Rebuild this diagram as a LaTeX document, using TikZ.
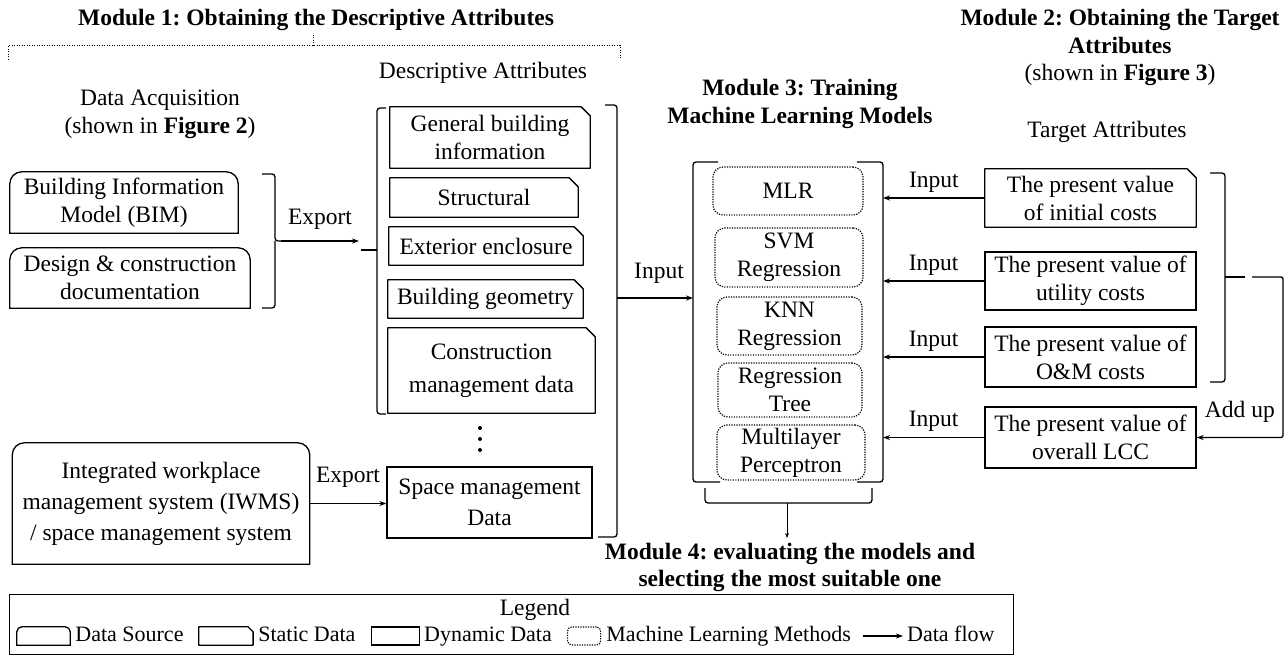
\documentclass[tikz,border=0pt]{standalone}
\usepackage{fontspec}
\setmainfont{Liberation Serif}
\usetikzlibrary{arrows.meta}
\frenchspacing
\newcommand\statshape[2][9pt]{\draw[line width=1.3pt, line join=round] (#2.south west) -- (#2.north west) -- ([xshift=-#1]#2.north east) -- ([yshift=-#1]#2.north east) -- (#2.south east) -- cycle;}
\newcommand\srcshape[2][12pt]{\draw[line width=1.3pt] (#2.south west) -- ([yshift=-#1]#2.north west) arc[start angle=180,end angle=90,radius=#1] -- ([xshift=-#1]#2.north east) arc[start angle=90,end angle=0,radius=#1] -- (#2.south east) -- cycle;}
\begin{document}
\begin{tikzpicture}[x=1pt,y=-1pt,
  every node/.style={font=\fontsize{23.5}{28}\selectfont, inner sep=0pt, align=center},
  sz/.style 2 args={minimum width=#1pt, minimum height=#2pt},
  title/.style={font=\fontsize{23.5}{27.5}\selectfont\bfseries},
  legtext/.style={font=\fontsize{22}{26}\selectfont, anchor=west, text height=15.5pt, text depth=4.8pt},
  dyn/.style={draw, line width=1.3pt},
  ml/.style={draw, line width=1.2pt, dash pattern=on 1.2pt off 1.3pt, rounded corners=10pt},
  flow/.style={line width=1.3pt, -{Stealth[length=7pt,width=5pt]}},
  brk/.style={line width=1.3pt, rounded corners=3pt},
  dotbrace/.style={line width=1pt, dash pattern=on 1pt off 1.5pt},
]
\fill[white] (0,0) rectangle (1285,655);
\useasboundingbox (0,0) rectangle (1285,655);

% titles
\node[title] (m1) at (316,20) {Module 1: Obtaining the Descriptive Attributes};
\node[title] (m2) at (1120,47.5) {Module 2: Obtaining the Target\\Attributes\\\mdseries(shown in \textbf{Figure 3})};
\node[title] (m3) at (800,104) {Module 3: Training\\Machine Learning Models};
\node[title] (m4) at (790,567.5) {Module 4: evaluating the models and\\selecting the most suitable one};
\node (da) at (160,114) {Data Acquisition\\(shown in \textbf{Figure 2})};
\node (dat) at (483,73) {Descriptive Attributes};
\node (ta) at (1107,132) {Target Attributes};

% module 1 dotted brace
\coordinate (mb) at (313,46);
\draw[dotbrace] (8,60) -- (8,46) -- (620,46) -- (620,60);
\draw[dotbrace] (mb) -- (313,35);

% data sources
\node[sz={228}{61}] (bim) at (124,202.5) {Building Information\\Model (BIM)}; \srcshape{bim}
\node[sz={240}{60}] (dcd) at (130,278) {Design \& construction\\documentation}; \srcshape{dcd}
\node[sz={297}{121}, font=\fontsize{23.5}{31}\selectfont] (iwms) at (161,503.5) {Integrated workplace\\management system (IWMS)\\/ space management system}; \srcshape{iwms}

% brace after data sources
\coordinate (b1t) at (281,241);
\draw[brk] (262,174) -- (275,174) -- (275,241) -- (b1t);
\draw[brk] (275,241) -- (275,308) -- (262,308);
\coordinate (dl) at (359,241);
\draw[flow] (b1t) -- node[above=11pt]{Export} (dl);

% descriptive attributes
\draw[brk] (386,108) -- (377,108) -- (377,414) -- (386,414);
\coordinate (dlt) at (361,250);
\draw[line width=1.3pt] (dlt) -- (377,250);
\node[sz={200}{61}] (gbi) at (490,137.5) {General building\\information}; \statshape{gbi}
\node[sz={188}{39}] (str) at (484,197.5) {Structural}; \statshape{str}
\node[sz={194}{38}] (ext) at (486,246) {Exterior enclosure}; \statshape{ext}
\node[sz={195}{38}] (geo) at (485.5,299) {Building geometry}; \statshape{geo}
\node[sz={207}{85}, font=\fontsize{23.5}{33}\selectfont] (con) at (491.5,370.5) {Construction\\management data}; \statshape{con}
\fill (480,428) circle[radius=2pt] (480,439) circle[radius=2pt] (480,450) circle[radius=2pt];
\node[dyn, sz={205}{71}, font=\fontsize{23.5}{31}\selectfont] (spm) at (489.5,502.5) {Space management\\Data};
\draw[flow] (iwms.east) -- node[above=15pt]{Export} (iwms.east -| spm.west);

% right bracket of descriptive attributes
\draw[brk] (605,105) -- (617,105) -- (617,537) -- (598,537);
\coordinate (dr) at (625,298);
\draw[line width=1.3pt] (617,298) -- (dr);
\coordinate (m3l) at (693,298);
\draw[flow] (dr) -- node[above=14pt]{Input} (m3l);

% module 3
\draw[brk] (718,162) -- (693,162) -- (693,482) -- (720,482);
\draw[brk] (857,162) -- (883,162) -- (883,482) -- (857,482);
\coordinate (m3r) at (883,300);
\node[ml, sz={150}{48}] (mlr) at (788,191) {MLR};
\node[ml, sz={148}{59}] (svm) at (789,257.5) {SVM\\Regression};
\node[ml, sz={145}{58}] (knn) at (789.5,326) {KNN\\Regression};
\node[ml, sz={144}{54}] (rt) at (790,390) {Regression\\Tree};
\node[ml, sz={148}{55}] (mlp) at (791,452.5) {Multilayer\\Perceptron};

% module 4 brace
\draw[brk] (705,488) -- (705,503) -- (872,503) -- (872,488);
\coordinate (m4t) at (787,503);
\coordinate (m4a) at (787,538);
\draw[line width=1pt, -{Stealth[length=5pt,width=4pt]}] (m4t) -- (m4a);

% target attributes
\node[sz={211}{58}] (pv1) at (1090.5,198) {The present value\\of initial costs}; \statshape{pv1}
\node[dyn, sz={211}{58}] (pv2) at (1090.5,281) {The present value of\\utility costs};
\node[dyn, sz={211}{60}] (pv3) at (1090.5,357) {The present value of\\O\&M costs};
\node[dyn, sz={211}{61}] (pv4) at (1090.5,437.5) {The present value of\\overall LCC};
\foreach \p in {pv1,pv2,pv3,pv4} \draw[flow] (\p.west) -- node[above=5pt]{Input} (\p.west -| m3r);

% add up
\draw[brk] (1210,173) -- (1225,173) -- (1225,382) -- (1210,382);
\coordinate (tb) at (1245,277);
\draw[line width=1.3pt] (1225,277) -- (tb);
\coordinate (au1) at (1252,277);
\coordinate (ar) at (1283,300);
\draw[flow, rounded corners=2pt] (au1) -- (au1 -| ar) -- (pv4.east -| ar) -- node[above=14pt]{Add up} (pv4.east);

% legend
\node[draw, line width=1pt, sz={1004}{60}] (legbox) at (511,624) {};
\node (legt) at (535,610) {Legend};
\node[sz={53}{18}] (li1) at (43.5,636) {}; \srcshape[5pt]{li1}
\node[legtext] (lt1) at ([xshift=5pt]li1.east) {Data Source};
\node[sz={54}{18}, anchor=west] (li2) at ([xshift=15pt]lt1.east) {}; \statshape[5pt]{li2}
\node[legtext] (lt2) at ([xshift=5pt]li2.east) {Static Data};
\node[dyn, sz={48}{18}, anchor=west] (li3) at ([xshift=15pt]lt2.east) {};
\node[legtext] (lt3) at ([xshift=4pt]li3.east) {Dynamic Data};
\node[ml, sz={33}{18}, rounded corners=4pt, anchor=west] (li4) at ([xshift=15pt]lt3.east) {};
\node[legtext] (lt4) at ([xshift=5pt]li4.east) {Machine Learning Methods};
\coordinate (la1) at ([xshift=12pt]lt4.east);
\coordinate (la2) at ([xshift=52pt]lt4.east);
\draw[flow] (la1) -- (la2);
\node[legtext] (lt5) at ([xshift=4pt]la2) {Data flow};
\end{tikzpicture}
\end{document}
